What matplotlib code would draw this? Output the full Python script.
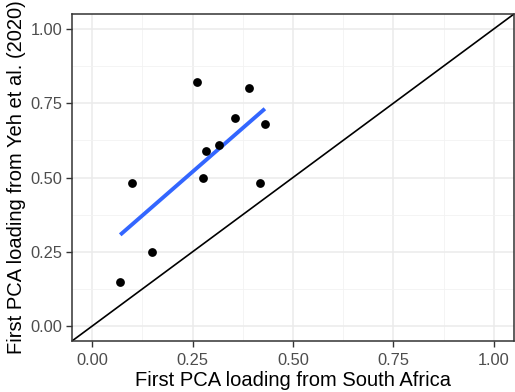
import numpy as np
import matplotlib
matplotlib.use("Agg")
import matplotlib.pyplot as plt
from matplotlib.ticker import MultipleLocator

x_south_africa = [0.07, 0.10, 0.15, 0.26, 0.275, 0.283, 0.315, 0.356, 0.39, 0.417, 0.43]
y_yeh = [0.15, 0.48, 0.25, 0.82, 0.50, 0.59, 0.61, 0.70, 0.80, 0.48, 0.68]
tick_values = [0.00, 0.25, 0.50, 0.75, 1.00]
tick_labels = ["0.00", "0.25", "0.50", "0.75", "1.00"]

plt.rcParams['font.family'] = ['Liberation Sans', 'DejaVu Sans']

W, H = 515, 392
fig = plt.figure(figsize=(W / 100, H / 100), dpi=100)
ax = fig.add_axes([72 / W, (H - 341) / H, (514 - 72) / W, (341 - 14) / H])

ax.set_xlim(-0.05, 1.05)
ax.set_ylim(-0.05, 1.05)

ax.xaxis.set_minor_locator(MultipleLocator(0.125))
ax.yaxis.set_minor_locator(MultipleLocator(0.125))
ax.grid(which='major', color='#EBEBEB', linewidth=1.1)
ax.grid(which='minor', color='#F2F2F2', linewidth=0.6)
ax.set_axisbelow(True)
ax.tick_params(which='minor', length=0)

ax.axline((0, 0), slope=1, color='black', linewidth=1.2, zorder=2)

xs = np.array(x_south_africa)
ys = np.array(y_yeh)
slope, intercept = np.polyfit(xs, ys, 1)
xl = np.array([xs.min(), xs.max()])
ax.plot(xl, slope * xl + intercept, color='#3366FF', linewidth=2.8, zorder=3,
        solid_capstyle='butt')

ax.scatter(xs, ys, s=40, color='black', zorder=4, linewidths=0)

ax.set_xticks(tick_values)
ax.set_xticklabels(tick_labels)
ax.set_yticks(tick_values)
ax.set_yticklabels(tick_labels)
ax.tick_params(which='major', length=4, width=1, color='#333333',
               labelcolor='#4D4D4D', labelsize=11.8, pad=3)
ax.tick_params(axis='x', which='major', pad=4.5)

for s in ax.spines.values():
    s.set_color('#333333')
    s.set_linewidth(1.1)

ax.set_xlabel("First PCA loading from South Africa", fontsize=14.5, labelpad=2)
ax.set_ylabel("First PCA loading from Yeh et al. (2020)", fontsize=14.5, labelpad=3)

fig.savefig("out.png", dpi=100)
